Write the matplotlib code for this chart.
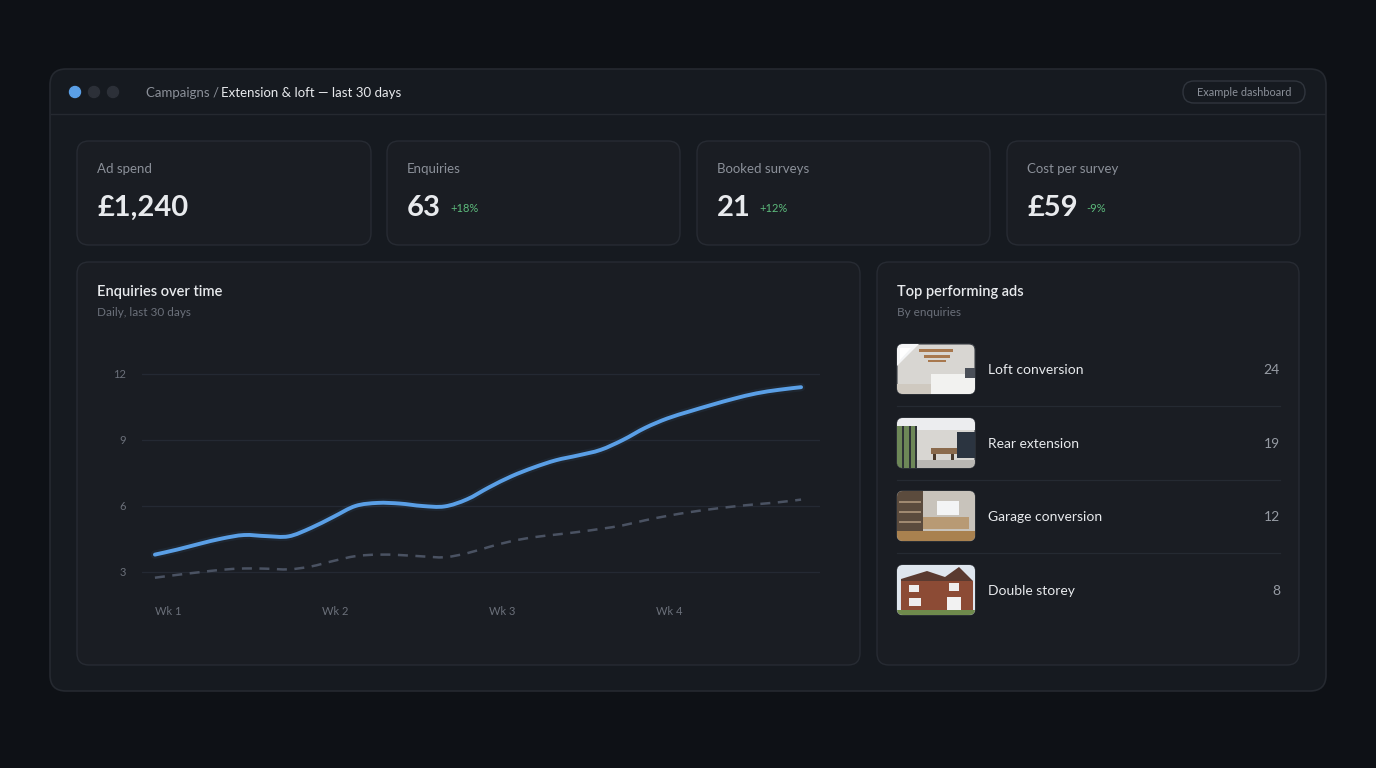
import matplotlib
matplotlib.use("Agg")
import matplotlib.pyplot as plt
from matplotlib.patches import FancyBboxPatch, Rectangle, Polygon, Circle, PathPatch
from matplotlib.path import Path

plt.rcParams['font.family'] = ['Lato', 'DejaVu Sans']

# ---- data ----
kpi_labels = ["Ad spend", "Enquiries", "Booked surveys", "Cost per survey"]
kpi_values = ["£1,240", "63", "21", "£59"]
kpi_deltas = ["", "+18%", "+12%", "-9%"]

days = list(range(30))
enquiries = [3.79, 4.02, 4.28, 4.52, 4.68, 4.63, 4.62, 5.0, 5.5, 6.0,
             6.14, 6.11, 6.0, 5.98, 6.3, 6.85, 7.35, 7.75, 8.08, 8.3,
             8.55, 9.0, 9.55, 9.98, 10.3, 10.6, 10.88, 11.12, 11.28, 11.4]
baseline = [2.74, 2.87, 2.99, 3.10, 3.16, 3.15, 3.12, 3.25, 3.5, 3.72,
            3.79, 3.77, 3.71, 3.67, 3.85, 4.14, 4.4, 4.58, 4.7, 4.82,
            4.96, 5.12, 5.35, 5.55, 5.72, 5.86, 5.98, 6.08, 6.17, 6.29]
y_ticks = [3, 6, 9, 12]
week_ticks = [0, 7.5, 15, 22.5]
week_labels = ["Wk 1", "Wk 2", "Wk 3", "Wk 4"]

ad_names = ["Loft conversion", "Rear extension", "Garage conversion", "Double storey"]
ad_enquiries = [24, 19, 12, 8]

# colours
BG = "#0e1116"
PANEL = "#161a20"
CARD = "#1a1d23"
EDGE = "#272b33"
WHITE = "#e8eaed"
GREY = "#8b9099"
DIM = "#6b707a"
GREEN = "#5dbb7c"
BLUE = "#5a9fe6"

W, H = 1376, 768
fig = plt.figure(figsize=(W / 100, H / 100), dpi=100, facecolor=BG)
ax = fig.add_axes([0, 0, 1, 1])
ax.set_xlim(0, W)
ax.set_ylim(H, 0)
ax.axis("off")
renderer = fig.canvas.get_renderer()


def rbox(x0, y0, x1, y1, r, fc, ec=EDGE, lw=1.0, z=1):
    p = FancyBboxPatch((x0, y0), x1 - x0, y1 - y0,
                       boxstyle="round,pad=0,rounding_size=%g" % r,
                       fc=fc, ec=ec, lw=lw, zorder=z)
    ax.add_patch(p)
    return p


def right_edge(t):
    bb = t.get_window_extent(renderer=renderer)
    return ax.transData.inverted().transform((bb.x1, bb.y0))[0]


def smooth_path(xs, ys):
    # catmull-rom through the points, drawn as cubic beziers
    verts = [(xs[0], ys[0])]
    codes = [Path.MOVETO]
    n = len(xs)
    for i in range(n - 1):
        xp, yp = (xs[i - 1], ys[i - 1]) if i > 0 else (xs[i], ys[i])
        xn, yn = (xs[i + 2], ys[i + 2]) if i + 2 < n else (xs[i + 1], ys[i + 1])
        c1 = (xs[i] + (xs[i + 1] - xp) / 6, ys[i] + (ys[i + 1] - yp) / 6)
        c2 = (xs[i + 1] - (xn - xs[i]) / 6, ys[i + 1] - (yn - ys[i]) / 6)
        verts += [c1, c2, (xs[i + 1], ys[i + 1])]
        codes += [Path.CURVE4] * 3
    return Path(verts, codes)


# main window
rbox(50, 69, 1326, 691, 16, PANEL, "#252930", 1.2)
ax.plot([51, 1325], [114, 114], color="#252930", lw=1, zorder=2)
for cx, c in zip([75, 94, 113], [BLUE, "#2c3038", "#2c3038"]):
    ax.add_patch(Circle((cx, 92), 5.5, color=c, zorder=3))
t = ax.text(146, 93, "Campaigns /", color=GREY, fontsize=9.5, va="center", zorder=3)
ax.text(right_edge(t) + 2, 93, "Extension & loft — last 30 days", color=WHITE,
        fontsize=9.5, va="center", zorder=3)
rbox(1183, 81, 1305, 103, 11, "none", "#30353d", 1.0, 3)
ax.text(1244, 92, "Example dashboard", color=GREY, fontsize=7.9, ha="center",
        va="center", zorder=4)

# KPI cards
card_x = [(77, 371), (387, 680), (697, 990), (1007, 1300)]
for (x0, x1), lab, val, d in zip(card_x, kpi_labels, kpi_values, kpi_deltas):
    rbox(x0, 141, x1, 245, 12, CARD, EDGE, 1.0, 2)
    ax.text(x0 + 20, 169, lab, color=GREY, fontsize=9.5, va="center", zorder=3)
    t = ax.text(x0 + 20, 208, val, color=WHITE, fontsize=21, fontweight="bold",
                va="center", zorder=3)
    if d:
        ax.text(right_edge(t) + 9, 208, d, color=GREEN, fontsize=8, va="center", zorder=3)

# chart card
rbox(77, 262, 860, 665, 12, CARD, EDGE, 1.0, 2)
ax.text(97, 292, "Enquiries over time", color=WHITE, fontsize=10.5,
        fontweight="semibold", va="center", zorder=3)
ax.text(97, 312, "Daily, last 30 days", color=DIM, fontsize=8.5, va="center", zorder=3)

cax = fig.add_axes([142 / W, (H - 600) / H, (820 - 142) / W, 250 / H])
cax.set_facecolor("none")
for s in cax.spines.values():
    s.set_visible(False)
cax.set_xlim(-0.58, 29.85)
cax.set_ylim(1.727, 13.09)
for yv in y_ticks:
    cax.axhline(yv, color="#242933", lw=0.9, zorder=1)
cax.add_patch(PathPatch(smooth_path(days, baseline), fill=False, ec="#4a5262",
                        lw=1.8, ls=(0, (4, 3)), zorder=2))
cax.add_patch(PathPatch(smooth_path(days, enquiries), fill=False, ec=BLUE,
                        lw=6, alpha=0.07, capstyle="round", zorder=3))
cax.add_patch(PathPatch(smooth_path(days, enquiries), fill=False, ec=BLUE,
                        lw=2.8, capstyle="round", zorder=4))
cax.set_yticks(y_ticks)
cax.set_yticklabels([str(v) for v in y_ticks])
cax.set_xticks(week_ticks)
cax.set_xticklabels(week_labels)
cax.tick_params(axis="y", length=0, pad=11.5, labelcolor=DIM, labelsize=8)
cax.tick_params(axis="x", length=0, pad=4, labelcolor=DIM, labelsize=8)
for lbl in cax.get_xticklabels():
    lbl.set_horizontalalignment("left")

# top ads card
rbox(877, 262, 1299, 665, 12, CARD, EDGE, 1.0, 2)
ax.text(897, 292, "Top performing ads", color=WHITE, fontsize=10.5,
        fontweight="semibold", va="center", zorder=3)
ax.text(897, 312, "By enquiries", color=DIM, fontsize=8.5, va="center", zorder=3)


def thumb(y0, kind):
    x0, x1, y1 = 897, 975, y0 + 50
    clip = rbox(x0, y0, x1, y1, 6, "#d8d6d2", "#3a3e45", 0.8, 3)
    shapes = []
    if kind == 0:  # loft
        shapes += [Polygon([(x0, y0), (x0 + 22, y0), (x0, y0 + 22)], fc="#f4f5f6"),
                   Polygon([(x0 + 3, y0 + 4), (x0 + 14, y0 + 4), (x0 + 3, y0 + 16)], fc="#ffffff"),
                   Rectangle((x0 + 22, y0 + 5), 34, 3, fc="#a8784e"),
                   Rectangle((x0 + 27, y0 + 11), 26, 2.5, fc="#a8784e"),
                   Rectangle((x0 + 31, y0 + 16), 18, 2, fc="#a8784e"),
                   Rectangle((x0 + 34, y0 + 30), 44, 20, fc="#f2f2f0"),
                   Rectangle((x0 + 68, y0 + 24), 10, 10, fc="#4a4f58"),
                   Rectangle((x0, y0 + 40), 34, 10, fc="#cfc9c0")]
    elif kind == 1:  # rear extension
        shapes += [Rectangle((x0, y0), 78, 12, fc="#ecedef"),
                   Rectangle((x0, y0 + 8), 18, 42, fc="#6d8757"),
                   Rectangle((x0 + 5, y0 + 8), 2, 42, fc="#2d3136"),
                   Rectangle((x0 + 12, y0 + 8), 2, 42, fc="#2d3136"),
                   Rectangle((x0 + 18, y0 + 8), 2, 42, fc="#2d3136"),
                   Rectangle((x0 + 60, y0 + 14), 18, 26, fc="#2b3440"),
                   Rectangle((x0 + 34, y0 + 30), 26, 6, fc="#8a6a4c"),
                   Rectangle((x0 + 36, y0 + 36), 3, 10, fc="#4a3a2c"),
                   Rectangle((x0 + 54, y0 + 36), 3, 10, fc="#4a3a2c"),
                   Rectangle((x0 + 20, y0 + 42), 58, 8, fc="#b9b7b3")]
    elif kind == 2:  # garage
        shapes += [Rectangle((x0, y0), 78, 50, fc="#c8c3bb"),
                   Rectangle((x0, y0), 26, 42, fc="#5b4b3d"),
                   Rectangle((x0 + 2, y0 + 10), 22, 1.5, fc="#a08970"),
                   Rectangle((x0 + 2, y0 + 20), 22, 1.5, fc="#a08970"),
                   Rectangle((x0 + 2, y0 + 30), 22, 1.5, fc="#a08970"),
                   Rectangle((x0 + 40, y0 + 10), 22, 14, fc="#f3f4f5"),
                   Rectangle((x0 + 26, y0 + 26), 46, 12, fc="#b89a74"),
                   Rectangle((x0, y0 + 40), 78, 10, fc="#a9814f")]
    else:  # double storey
        shapes += [Rectangle((x0, y0), 78, 50, fc="#dfe6ee"),
                   Polygon([(x0 + 4, y0 + 14), (x0 + 30, y0 + 6), (x0 + 48, y0 + 12),
                            (x0 + 62, y0 + 2), (x0 + 76, y0 + 16), (x0 + 4, y0 + 16)], fc="#5a3a30"),
                   Rectangle((x0 + 4, y0 + 16), 72, 30, fc="#8c4b35"),
                   Rectangle((x0 + 12, y0 + 20), 10, 7, fc="#eeeeee"),
                   Rectangle((x0 + 52, y0 + 18), 10, 8, fc="#eeeeee"),
                   Rectangle((x0 + 12, y0 + 33), 12, 8, fc="#eeeeee"),
                   Rectangle((x0 + 50, y0 + 32), 14, 14, fc="#f2f2f2"),
                   Rectangle((x0, y0 + 45), 78, 5, fc="#6f8a4c")]
    for s in shapes:
        s.set_zorder(3.5)
        s.set_linewidth(0)
        ax.add_patch(s)
        s.set_clip_path(clip)


row_y = [344, 418, 491, 565]
for i, (name, n, y0) in enumerate(zip(ad_names, ad_enquiries, row_y)):
    thumb(y0, i)
    ax.text(988, y0 + 26, name, color=WHITE, fontsize=10, va="center", zorder=3)
    ax.text(1280, y0 + 26, str(n), color="#969ba3", fontsize=10, ha="right",
            va="center", zorder=3)
    if i < len(ad_names) - 1:
        ax.plot([897, 1280], [y0 + 62, y0 + 62], color="#252a32", lw=0.9, zorder=3)

fig.savefig("out.png", dpi=100, facecolor=BG)
